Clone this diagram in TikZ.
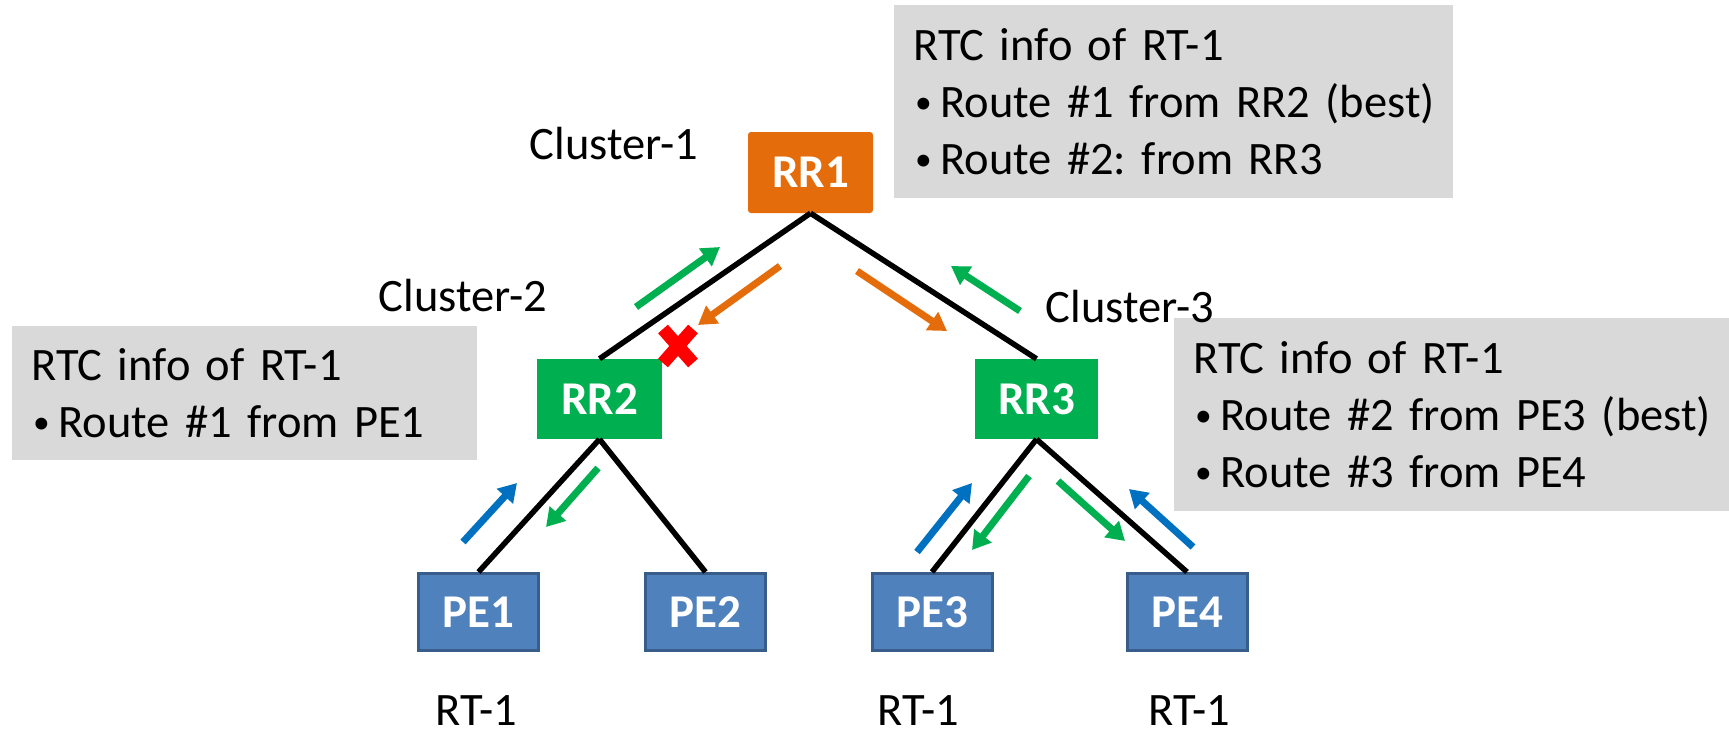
\documentclass[tikz,border=0pt]{standalone}
\usepackage{graphicx}
\usepackage{fontspec}
\setmainfont{Carlito}
\usetikzlibrary{arrows.meta}
\frenchspacing

\definecolor{rrorange}{HTML}{E46C0A}
\definecolor{rrgreen}{HTML}{00B050}
\definecolor{pefill}{HTML}{4F81BD}
\definecolor{peborder}{HTML}{385D8A}
\definecolor{infogray}{HTML}{D9D9D9}
\definecolor{flowblue}{HTML}{0070C0}
\definecolor{xred}{HTML}{FF0000}

% one bullet line of an information panel, never wrapped
\newcommand{\bulline}[1]{\mbox{\makebox[27pt][l]{\hspace{2pt}\raisebox{0.09em}{\scalebox{0.72}{\textbullet}}}#1}}

\begin{document}
\begin{tikzpicture}[x=1pt,y=-1pt,
  every node/.style={font=\fontsize{46.5}{57}\selectfont},
  router/.style={minimum width=125pt, minimum height=80pt, inner sep=0pt,
                 text=white, font=\fontsize{47}{56}\selectfont\bfseries},
  rrtop/.style={router, fill=rrorange, rounded corners=3pt},
  rrmid/.style={router, fill=rrgreen},
  pebox/.style={router, fill=pefill, draw=peborder, line width=3pt,
                minimum width=120pt, minimum height=77pt},
  link/.style={line width=5.5pt},
  flow/.style={line width=7pt, -{Triangle[length=18pt,width=21pt]}},
  infobox/.style={fill=infogray, anchor=north west, inner xsep=19pt,
                  inner ysep=0pt, align=left},
  tag/.style={anchor=base, inner sep=0pt}
]
\useasboundingbox (0,0) rectangle (1729,734);

% information panels
\node[infobox, text width=521pt, minimum height=193pt] (info1) at (894,5)
  {RTC info of RT-1\\ \bulline{Route \#1 from RR2 (best)}\\ \bulline{Route \#2: from RR3}};
\node[infobox, text width=427pt, minimum height=134pt] (info2) at (12,326)
  {RTC info of RT-1\\ \bulline{Route \#1 from PE1}};
\node[infobox, text width=517pt, minimum height=193pt] (info3) at (1174,318)
  {RTC info of RT-1\\ \bulline{Route \#2 from PE3 (best)}\\ \bulline{Route \#3 from PE4}};

% route reflectors and PEs
\node[rrtop, minimum height=81pt] (RR1) at (810.5,172.5) {RR1};
\node[rrmid] (RR2) at (599.5,399) {RR2};
\node[rrmid, minimum width=123pt] (RR3) at (1036.5,399) {RR3};
\node[pebox] (PE1) at (478.5,612) {PE1};
\node[pebox] (PE2) at (705.5,612) {PE2};
\node[pebox] (PE3) at (932,612) {PE3};
\node[pebox] (PE4) at (1187,612) {PE4};

% sessions
\draw[link] (RR1.south) -- (RR2.north);
\draw[link] (RR1.south) -- (RR3.north);
\draw[link] (RR2.south) -- (PE1.north);
\draw[link] (RR2.south) -- (PE2.north);
\draw[link] (RR3.south) -- (PE3.north);
\draw[link] (RR3.south) -- (PE4.north);

% cluster and RT labels
\node[tag] (c1) at (614,159) {Cluster-1};
\node[tag] (c2) at (463,311) {Cluster-2};
\node[tag] (c3) at (1130,322) {Cluster-3};
\node[tag] (rt1) at (476,725) {RT-1};
\node[tag] (rt3) at (918,725) {RT-1};
\node[tag] (rt4) at (1189,725) {RT-1};

% advertisement flows
\draw[flow, rrgreen]  (636,307) -- (720,247);
\draw[flow, rrorange] (780,266) -- (698,325);
\draw[flow, rrorange] (857,271) -- (947,331);
\draw[flow, rrgreen]  (1020,311) -- (951,266);
\draw[flow, flowblue] (463,542) -- (517,483);
\draw[flow, rrgreen]  (598,468) -- (546,527);
\draw[flow, flowblue] (917,552) -- (972,483);
\draw[flow, rrgreen]  (1029,476) -- (972,550);
\draw[flow, rrgreen]  (1058,481) -- (1125,541);
\draw[flow, flowblue] (1193,547) -- (1129,489);

% withdrawn advertisement
\draw[xred, line width=13pt] (663,329) -- (693,363) (693,329) -- (663,363);
\end{tikzpicture}
\end{document}
